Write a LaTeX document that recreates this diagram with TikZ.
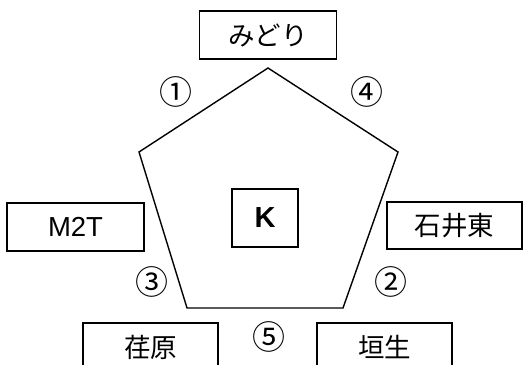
\documentclass[tikz,border=0pt]{standalone}
\usepackage{fontspec}
\setmainfont{Liberation Sans}
\newfontfamily\jpfont{Noto Sans CJK JP}
\begin{document}
\begin{tikzpicture}[x=1pt,y=-1pt,
  namebox/.style={draw, line width=1.1pt, minimum width=137pt, minimum height=48pt, inner sep=0pt, font=\jpfont\fontsize{26.5}{30}\selectfont},
  latinbox/.style={namebox, font=\fontsize{27.5}{30}\selectfont},
  numlabel/.style={inner sep=0pt, font=\jpfont\fontsize{33}{36}\selectfont},
  pent/.style={line width=1.4pt, line join=miter}]
\useasboundingbox (0,0) rectangle (529,364);
\clip (0,0) rectangle (529,364);
% pentagon corners
\coordinate (pt) at (268,68);
\coordinate (pr) at (398,152);
\coordinate (pbr) at (343,308);
\coordinate (pbl) at (187,308);
\coordinate (pl) at (139,152);
\draw[pent] (pt) -- (pr) -- (pbr) -- (pbl) -- (pl) -- cycle;
% boxes
\node[namebox] (midori) at (268,35) {みどり};
\node[latinbox] (m2t) at (75.5,227) {M2T};
\node[namebox, minimum width=66pt, minimum height=58pt, font=\bfseries\fontsize{29}{32}\selectfont] (k) at (265,218) {K};
\node[namebox, minimum width=135pt, minimum height=47pt] (ishii) at (454.5,225.5) {石井東};
\node[namebox, minimum width=135pt] (ebara) at (150.5,347) {荏原};
\node[namebox, minimum width=135pt] (habu) at (384.5,347) {垣生};
% circled numbers
\node[numlabel] (n1) at (176,92) {①};
\node[numlabel] (n4) at (367,92) {④};
\node[numlabel] (n3) at (152,282) {③};
\node[numlabel] (n2) at (391,282) {②};
\node[numlabel] (n5) at (269,337) {⑤};
\end{tikzpicture}
\end{document}
